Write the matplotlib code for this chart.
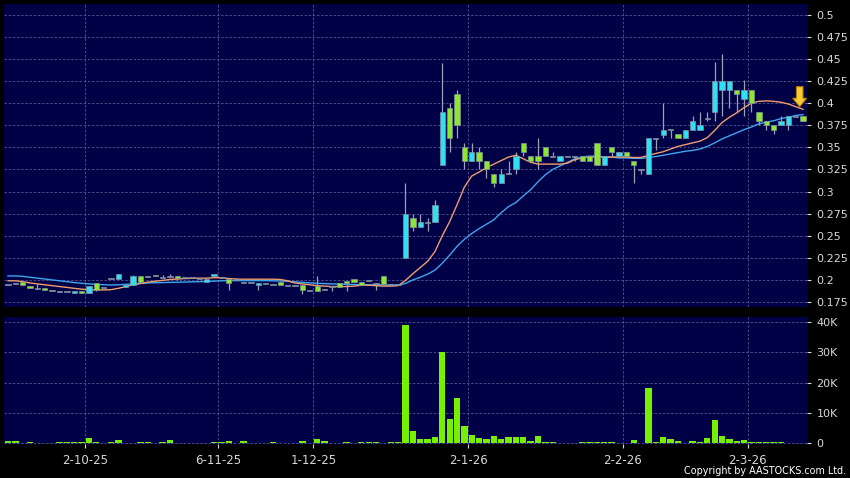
import matplotlib.pyplot as plt
import numpy as np
from matplotlib.patches import FancyArrow
from matplotlib.ticker import FuncFormatter

# daily bars, oldest first (prices in HKD, volume in shares)
opens = [.195, .196, .198, .193, .190, .191, .189, .187, .187, .185,
         .188, .185, .197, .191, .202, .201, .192, .194, .204, .204,
         .206, .203, .204, .204, .203, .203, .202, .198, .204, .203,
         .201, .200, .197, .197, .194, .196, .195, .198, .194, .194,
         .194, .188, .193, .189, .193, .196, .199, .201, .198, .199,
         .196, .204, .195, .195, .225, .270, .260, .265, .265, .330,
         .395, .410, .350, .335, .345, .335, .320, .310, .320, .325,
         .355, .340, .340, .350, .340, .335, .340, .340, .340, .340,
         .355, .330, .350, .340, .345, .335, .325, .320, .360, .364,
         .370, .365, .360, .370, .370, .383, .390, .415, .415, .415,
         .405, .415, .390, .380, .375, .375, .375, .385, .385]
highs = [.195, .197, .198, .193, .195, .191, .189, .187, .187, .188,
         .188, .193, .197, .191, .202, .207, .195, .206, .204, .204,
         .206, .206, .207, .204, .203, .203, .202, .201, .207, .203,
         .201, .200, .197, .197, .196, .196, .195, .198, .194, .194,
         .194, .188, .204, .189, .193, .196, .199, .201, .198, .199,
         .196, .204, .195, .195, .310, .275, .275, .270, .290, .445,
         .400, .415, .355, .355, .350, .335, .320, .325, .335, .345,
         .355, .340, .360, .350, .345, .340, .340, .340, .340, .340,
         .355, .340, .350, .345, .345, .335, .325, .360, .360, .400,
         .370, .365, .370, .385, .390, .390, .447, .455, .425, .415,
         .426, .415, .390, .380, .375, .385, .385, .385, .385]
lows = [.195, .195, .194, .191, .190, .189, .187, .187, .187, .185,
        .185, .185, .187, .191, .202, .201, .192, .194, .198, .204,
        .204, .203, .203, .200, .203, .203, .202, .198, .204, .203,
        .189, .200, .197, .197, .189, .196, .195, .194, .194, .194,
        .184, .188, .188, .189, .187, .192, .187, .198, .194, .199,
        .189, .195, .195, .195, .225, .255, .260, .255, .265, .330,
        .345, .360, .325, .335, .325, .315, .305, .310, .320, .320,
        .340, .335, .325, .340, .340, .335, .340, .335, .335, .335,
        .330, .330, .340, .340, .340, .310, .320, .320, .347, .360,
        .360, .360, .360, .370, .370, .380, .380, .385, .395, .390,
        .385, .390, .375, .370, .365, .375, .370, .385, .380]
closes = [.195, .196, .194, .191, .190, .189, .187, .187, .187, .188,
          .185, .193, .189, .191, .202, .207, .194, .204, .198, .204,
          .204, .203, .204, .202, .203, .203, .202, .201, .207, .203,
          .197, .200, .197, .197, .196, .196, .195, .194, .194, .194,
          .189, .188, .188, .189, .193, .192, .196, .198, .194, .199,
          .196, .195, .195, .195, .275, .260, .265, .265, .285, .390,
          .360, .375, .335, .345, .335, .325, .310, .320, .320, .340,
          .345, .335, .335, .340, .340, .340, .340, .340, .335, .335,
          .330, .340, .345, .345, .340, .330, .325, .360, .360, .370,
          .370, .360, .370, .380, .375, .383, .425, .425, .425, .410,
          .415, .400, .380, .375, .370, .380, .385, .385, .380]
volumes = [800, 800, 0, 400, 0, 0, 0, 400, 300, 300,
           300, 1800, 400, 0, 300, 1000, 0, 0, 400, 400,
           0, 400, 1200, 0, 0, 0, 0, 0, 400, 400,
           800, 0, 900, 0, 0, 0, 400, 0, 0, 0,
           800, 0, 1400, 800, 0, 0, 500, 0, 400, 300,
           300, 0, 400, 400, 39000, 4100, 1400, 1500, 2100, 29900,
           8000, 14900, 5700, 2700, 1800, 1500, 2400, 1300, 2100, 2000,
           2000, 800, 2400, 400, 400, 100, 100, 100, 300, 300,
           300, 300, 300, 100, 100, 1000, 100, 18200, 400, 2200,
           1300, 700, 100, 900, 300, 1600, 7600, 2400, 1300, 800,
           1100, 400, 500, 300, 300, 300, 200, 0, 0]
ma_fast = [.1990, .1990, .1980, .1966, .1955, .1945, .1935, .1925, .1915, .1905,
           .1895, .1890, .1887, .1887, .1890, .1905, .1925, .1945, .1960, .1975,
           .1985, .1995, .2005, .2010, .2015, .2018, .2020, .2020, .2025, .2025,
           .2015, .2010, .2008, .2008, .2008, .2008, .2008, .2005, .1990, .1965,
           .1955, .1945, .1935, .1930, .1925, .1925, .1925, .1930, .1940, .1940,
           .1935, .1930, .1930, .1935, .1995, .2070, .2140, .2210, .2320, .2500,
           .2660, .2850, .3050, .3175, .3220, .3270, .3310, .3350, .3390, .3410,
           .3370, .3330, .3310, .3310, .3310, .3310, .3320, .3360, .3380, .3390,
           .3390, .3390, .3390, .3390, .3390, .3385, .3385, .3410, .3430, .3450,
           .3480, .3510, .3530, .3550, .3570, .3610, .3690, .3780, .3840, .3890,
           .3950, .4000, .4020, .4025, .4020, .4010, .3990, .3960, .3930]
ma_slow = [.2045, .2045, .2040, .2030, .2020, .2010, .2000, .1990, .1980, .1970,
           .1962, .1955, .1950, .1945, .1942, .1945, .1950, .1955, .1960, .1965,
           .1968, .1970, .1972, .1974, .1976, .1978, .1980, .1983, .1986, .1990,
           .1992, .1992, .1992, .1992, .1992, .1992, .1990, .1988, .1984, .1978,
           .1972, .1966, .1962, .1958, .1955, .1952, .1950, .1948, .1946, .1945,
           .1944, .1943, .1942, .1942, .1960, .2000, .2030, .2065, .2110, .2190,
           .2280, .2380, .2460, .2525, .2580, .2630, .2680, .2760, .2830, .2875,
           .2950, .3020, .3110, .3190, .3250, .3290, .3330, .3370, .3390, .3400,
           .3400, .3390, .3390, .3380, .3380, .3375, .3375, .3385, .3395, .3410,
           .3425, .3440, .3455, .3465, .3480, .3510, .3550, .3595, .3630, .3665,
           .3700, .3730, .3765, .3785, .3800, .3825, .3840, .3860, .3870]

date_pos = [10.5, 28.5, 41.5, 62.5, 83.5, 100.5]
date_labels = ['2-10-25', '6-11-25', '1-12-25', '2-1-26', '2-2-26', '2-3-26']
price_ticks = [0.175 + 0.025 * k for k in range(14)]
vol_ticks = [0, 10000, 20000, 30000, 40000]
vol_labels = ['0', '10K', '20K', '30K', '40K']

BG = '#000046'
GRID = '#56568c'
TXT = '#d8d8d8'
UP = '#2fe0f2'
DOWN = '#8ce82c'
FLAT = '#9a9aae'

W, H = 850, 478
fig = plt.figure(figsize=(W / 100, H / 100), dpi=100, facecolor='black')
ax = fig.add_axes([4 / W, 1 - 306.7 / H, 802.7 / W, 302.7 / H], facecolor=BG)
axv = fig.add_axes([4 / W, 1 - 444.3 / H, 802.7 / W, 127.6 / H], facecolor=BG, sharex=ax)

x = np.arange(len(closes))
o, hi, lo, c = (np.array(v) for v in (opens, highs, lows, closes))
col = np.where(c > o, UP, np.where(c < o, DOWN, FLAT))
body = np.maximum(np.abs(c - o), 0.0013)
bottom = np.where(c == o, o - 0.00065, np.minimum(o, c))

ax.vlines(x, lo, hi, color='#a0a0b4', lw=0.9, zorder=2)
ax.plot(x, ma_slow, color='#3fa6ee', lw=1.0, zorder=2.5)
ax.plot(x, ma_fast, color='#ee9e6c', lw=1.0, zorder=2.5)
ax.bar(x, body, bottom=bottom, width=0.72, color=col, edgecolor='#8090a0',
       lw=0.5, zorder=3)

# yellow marker arrow on the latest bar
ax.add_patch(FancyArrow(107.55, 0.4186, 0, -0.0226, width=0.9, head_width=1.9,
                        head_length=0.0095, length_includes_head=True,
                        fc='#f6cc2e', ec='#b87a00', lw=0.8, zorder=6))

axv.bar(x, volumes, width=0.86, color='#74f000', zorder=3)

for a in (ax, axv):
    for s in a.spines.values():
        s.set_visible(False)
    a.grid(True, color=GRID, ls=(0, (3, 2)), lw=0.6, zorder=0)
    a.yaxis.tick_right()
    a.tick_params(axis='y', colors=TXT, length=3, width=0.8, pad=4, labelsize=8)

ax.set_xlim(-0.54, 108.5)
ax.set_ylim(0.1697, 0.5121)
ax.set_yticks(price_ticks)
ax.yaxis.set_major_formatter(FuncFormatter(lambda v, p: f'{round(v, 3):g}'))
ax.set_xticks(date_pos)
ax.tick_params(axis='x', length=0, labelbottom=False)

axv.set_ylim(-330, 41650)
axv.set_yticks(vol_ticks)
axv.set_yticklabels(vol_labels)
axv.set_xticks(date_pos)
axv.set_xticklabels(date_labels)
axv.tick_params(axis='x', colors=TXT, length=3, width=0.8, pad=4, labelsize=8.5)

fig.text(846 / W, 1 - 471 / H, 'Copyright by AASTOCKS.com Ltd.', ha='right',
         va='center', color='white', fontsize=6.9)

fig.savefig('out.png', dpi=100, facecolor='black')
